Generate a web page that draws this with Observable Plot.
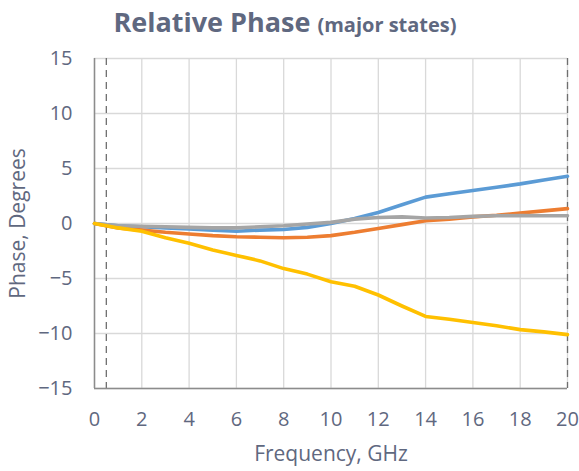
<!DOCTYPE html>
<html><head><meta charset="utf-8">
<script src="https://cdn.jsdelivr.net/npm/d3@7"></script>
<script src="https://cdn.jsdelivr.net/npm/@observablehq/plot@0.6"></script>
<style>
body{margin:0;background:#fff;font-family:"Open Sans",sans-serif;}
#title{height:44px;width:570px;text-align:center;color:#5f6880;font-weight:700;font-size:27px;line-height:44px;white-space:nowrap;}
#title span{font-size:20px;}
</style></head><body>
<div id="title">Relative Phase <span>(major states)</span></div>
<div id="chart"></div>
<script>
const freq   = [0, 1, 2, 3, 4, 5, 6, 7, 8, 9, 10, 11, 12, 13, 14, 15, 16, 17, 18, 19, 20];
const blue   = [0, -0.2, -0.3, -0.4, -0.5, -0.6, -0.7, -0.6, -0.55, -0.35, 0.0, 0.45, 1.0, 1.7, 2.4, 2.7, 3.0, 3.3, 3.6, 3.95, 4.3];
const orange = [0, -0.4, -0.6, -0.8, -0.95, -1.1, -1.2, -1.25, -1.3, -1.25, -1.1, -0.8, -0.45, -0.1, 0.25, 0.4, 0.6, 0.75, 0.95, 1.15, 1.35];
const gray   = [0, -0.2, -0.25, -0.3, -0.35, -0.4, -0.4, -0.3, -0.2, -0.05, 0.1, 0.4, 0.55, 0.6, 0.5, 0.55, 0.65, 0.7, 0.72, 0.7, 0.7];
const yellow = [0, -0.4, -0.7, -1.3, -1.8, -2.4, -2.9, -3.4, -4.1, -4.6, -5.3, -5.7, -6.5, -7.5, -8.45, -8.7, -9.0, -9.3, -9.65, -9.85, -10.1];
const seriesNames  = ["State 1", "State 2", "State 3", "State 4"];
const seriesColors = ["#5b9bd5", "#ed7d31", "#a5a5a5", "#ffc000"];
const seriesValues = [blue, orange, gray, yellow];
const xTicks = [0, 2, 4, 6, 8, 10, 12, 14, 16, 18, 20];
const yTicks = [-15, -10, -5, 0, 5, 10, 15];
const markerFreqs = [0.5, 20];

const rows = [];
seriesNames.forEach((s, i) => freq.forEach((f, j) => rows.push({series: s, f, v: seriesValues[i][j]})));

const textColor = "#5f6880";
const chart = Plot.plot({
  width: 579,
  height: 427,
  marginTop: 14,
  marginBottom: 83,
  marginLeft: 94,
  marginRight: 12,
  style: {fontFamily: "'Open Sans', sans-serif", fontSize: "20px", color: textColor, background: "#fff"},
  x: {domain: [0, 20], label: null},
  y: {domain: [-15, 15], label: null},
  color: {domain: seriesNames, range: seriesColors},
  marks: [
    Plot.gridX(xTicks, {stroke: "#d9d9d9", strokeOpacity: 1, strokeWidth: 1.3}),
    Plot.gridY(yTicks, {stroke: "#d9d9d9", strokeOpacity: 1, strokeWidth: 1.3}),
    Plot.ruleX(markerFreqs, {stroke: "#6f6f6f", strokeWidth: 1.3, strokeDasharray: "7,5"}),
    Plot.ruleX([0], {stroke: "#8c8c8c", strokeWidth: 1.5}),
    Plot.ruleY([-15], {stroke: "#8c8c8c", strokeWidth: 1.5}),
    Plot.axisX(xTicks, {tickSize: 0, tickPadding: 23, fill: textColor, fontSize: 20, label: null}),
    Plot.axisX({ticks: [], label: "Frequency, GHz", labelAnchor: "center", labelArrow: "none", labelOffset: 72, fontSize: 21, fill: textColor}),
    Plot.axisY(yTicks, {tickSize: 0, tickPadding: 22, fill: textColor, fontSize: 20, label: null}),
    Plot.axisY({ticks: [], label: "Phase, Degrees", labelAnchor: "center", labelArrow: "none", labelOffset: 84, fontSize: 21, fill: textColor}),
    Plot.line(rows, {x: "f", y: "v", z: "series", stroke: "series", strokeWidth: 3.6, curve: "linear"})
  ]
});
document.getElementById("chart").appendChild(chart);
</script>
</body></html>
